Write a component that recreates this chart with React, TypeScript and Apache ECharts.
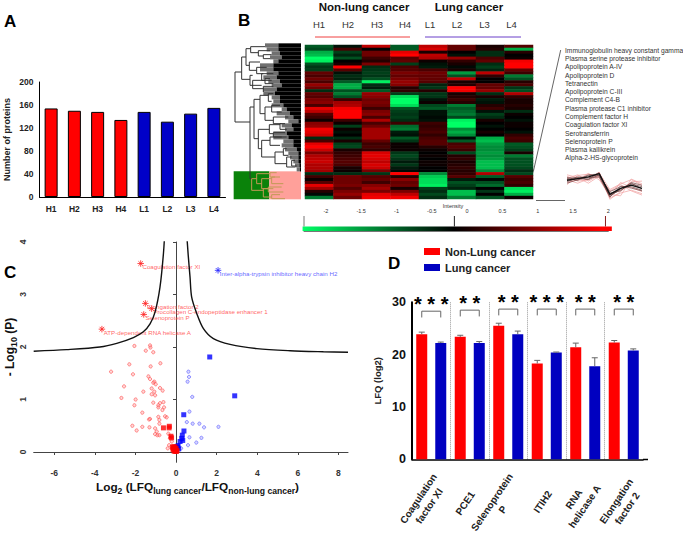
import React, { useEffect, useRef } from "react";
import * as echarts from "echarts";

const FONT = "'Liberation Sans', Arial, sans-serif";

// Panel A
const sampleNames = ["H1", "H2", "H3", "H4", "L1", "L2", "L3", "L4"];
const proteinCounts = [154, 150, 148, 134, 148, 131, 145, 155];

// Panel B: heat map rows, columns H1..L4
const heatRows = [
  [-1, -0.2, 1.5, -1, 1.5, 0.8, 0.2, 0.7],
  [-0.8, 0.6, 0, -1, 1.7, 0.8, 0.3, -1.5],
  [-1.5, -0.7, 0.9, 1.8, 0.2, 0, -0.5, 0.3],
  [-1.6, -0.4, 0.9, 2, 1.5, -0.2, -0.5, 0],
  [-2, -0.9, 0.5, 0.7, 1.4, 1.2, 0.6, 0.1],
  [-1.9, 0, 0.3, 0.8, 0.1, 0.4, 0.8, 1.9],
  [-0.9, 0.2, 1, -0.7, -0.2, 0.2, -0.5, 2],
  [-0.6, 2, -0.5, 0.6, -0.3, -0.1, -0.7, 2],
  [-0.7, 0.7, -0.6, 0.7, 0.6, 0.2, -0.4, 0.8],
  [0.8, -0.2, -0.7, 1, 0.9, -1.4, 1.5, 0.5],
  [0.6, -0.5, -0.6, 0.8, 0.8, -0.9, 0.4, -1.2],
  [0.9, -0.4, -0.9, 1, 0.8, 1.5, 0, -0.9],
  [0.6, -1, -1.9, 1.2, 0.7, 0.2, 0, 0.3],
  [1.2, -1.5, -0.5, 1.1, -0.4, 0.3, 0.8, 0.6],
  [0.9, -1.5, -0.3, 0.3, -0.6, 2, 0.8, -0.6],
  [-0.5, -0.9, -1, 0.4, 0.3, 1.9, 1.2, -0.9],
  [0.8, -1.2, 1.2, -0.7, -0.6, 0.2, -0.5, 1.4],
  [0.7, -0.9, 1.1, -1.8, -0.6, 0.3, 0.2, 0.4],
  [1, 0.5, 0.9, -2, -0.2, 0.5, -0.3, 0.2],
  [1.1, 1.3, 1, -2, 0.1, 0.3, -0.2, 0.2],
  [0.6, 1.4, 0.9, -1.8, -0.8, -1.2, 0.3, 0.3],
  [1.8, 1.9, 0.5, -0.9, -1, -1, 0.5, 0.2],
  [1.5, 2, 1, -0.7, -0.2, -1.1, -0.2, -0.5],
  [0.7, 2, 1.1, -0.6, -0.2, -1.2, -0.7, 0.1],
  [0.5, 2, 0.6, -0.7, -0.1, -0.8, -0.5, 0],
  [0.1, 0.5, 1.4, -0.5, -0.2, -1.9, 0.2, -0.2],
  [1.1, 0.1, 0.6, 0.5, 0.5, -2, 0, 0.1],
  [1.2, -0.7, 0.9, -1.1, 0.4, -2, -0.2, 0.1],
  [1.9, 0.1, 1.3, -1.2, 0.5, -1.3, 0, 0],
  [1.8, -0.2, 1.3, -0.3, 0.6, -1.5, 0.2, -0.2],
  [1.6, 0, 1.3, -0.2, 0.4, -1.3, 0, 0.4],
  [-0.5, -0.5, 1.3, -1, 0.6, -0.1, -1.5, 0.6],
  [0.6, 0.2, 0.8, -0.6, 0.7, -1, -1.6, 0.5],
  [1.8, -0.7, 0.5, 0.1, 0.7, 0.6, -1.4, -1],
  [2, -0.8, 0.6, 0.1, 0.3, 0.7, -1.3, -0.9],
  [1.6, 0.2, 0.4, 0.1, 0.1, 0.5, -1.3, -0.7],
  [1, 0.4, 1.7, -0.6, 0, -0.8, -1.4, 0.2],
  [1.4, 0.5, 1.8, -0.8, 0.1, 0.3, -1.3, -1.2],
  [1.5, 0.6, 1.7, -0.6, 0, 0.4, -1.4, -0.9],
  [1.6, 0.7, 1.5, -0.3, 0.1, 0.2, -1.6, -0.9],
  [1.4, 0.6, 1.7, -0.6, 0.1, 0.3, -1.6, -0.9],
  [1.4, 0.2, 1.6, -0.3, 0, 0.4, -1.6, -0.8],
  [1.3, 0.1, 1, -0.1, 0, 0.3, -1.3, -0.5],
  [-0.5, -0.5, -0.6, 2, -1.3, 0.4, 1.4, -0.8],
  [0.5, 0.9, 0.7, 0.3, -1.7, 0.7, -1, 0.7],
  [0.1, 0.9, 0.8, 1.1, -1.8, -0.3, -0.1, 0.5],
  [0.7, 0.9, 0.5, 0.8, -1.8, -0.9, -0.9, 0.6],
  [1.8, 1, 1.1, 0.9, -1.9, -0.7, -1.1, 0.4],
  [1.3, 0.7, 1.3, 0.2, -0.7, -0.4, 0, -1.8],
  [0.3, 1, 1, 1, -0.5, -1.6, -0.6, -1.9],
  [-0.1, 1.2, 1.8, 1.5, -0.8, -1.6, 0, -1.5],
  [-1.2, 0.9, 1.9, 1.9, -0.5, -1.2, -0.9, 0.1],
];

// dendrogram joins: parent height, top child row, bottom child row, top child height, bottom child height
const dendroJoins = [
  [15, 90, 240, 35, 60], [35, 45, 112, 48, 60], [48, 20, 70, 62, 58], [62, 14, 32, 105, 85],
  [85, 26, 42, 120, 100], [100, 38, 50, 125, 120], [58, 60, 85, 90, 80], [80, 76, 95, 110, 100],
  [60, 100, 130, 68, 95], [68, 115, 140, 105, 100], [95, 95, 115, 130, 125], [105, 110, 125, 120, 130],
  [100, 133, 150, 130, 100], [60, 195, 410, 72, 65], [72, 172, 290, 90, 85], [90, 160, 215, 115, 105],
  [115, 155, 178, 130, 125], [105, 195, 235, 125, 130], [125, 190, 210, 150, 155], [130, 225, 245, 175, 155],
  [85, 262, 320, 118, 95], [118, 248, 275, 150, 130], [150, 245, 262, 165, 170], [130, 272, 285, 165, 170],
  [95, 295, 345, 120, 135], [120, 285, 310, 155, 150], [135, 330, 365, 160, 170], [160, 320, 340, 170, 175],
  [170, 345, 375, 185, 195], [185, 355, 372, 195, 200],
];
const dendroSelectedJoins = [
  [65, 410, 445, 80, 100], [80, 395, 425, 120, 95], [120, 392, 405, 140, 135], [95, 410, 440, 125, 130],
  [125, 405, 425, 150, 160], [100, 440, 465, 115, 125], [115, 435, 450, 155, 160], [125, 458, 470, 150, 165],
];
// leaf row, height where grey begins, height where black begins
const dendroLeaves = [
  [10, 105, 145], [22, 110, 145], [34, 125, 150], [46, 120, 155], [58, 130, 145], [70, 90, 130], [82, 90, 130],
  [94, 110, 145], [106, 100, 140], [118, 115, 150], [130, 125, 155], [142, 100, 140], [154, 100, 135], [166, 125, 150],
  [178, 130, 150], [190, 125, 160], [202, 155, 170], [214, 140, 180], [226, 165, 190], [238, 175, 205], [250, 155, 185],
  [262, 165, 190], [274, 130, 170], [286, 130, 175], [298, 160, 190], [310, 155, 190], [322, 165, 200], [334, 175, 205],
  [346, 180, 205], [358, 190, 205], [370, 195, 208], [382, 200, 210],
];
const selectedProteins = [
  "Immunoglobulin heavy constant gamma", "Plasma serine protease inhibitor", "Apolipoprotein A-IV", "Apolipoprotein D",
  "Tetranectin", "Apolipoprotein C-III", "Complement C4-B", "Plasma protease C1 inhibitor", "Complement factor H",
  "Coagulation factor XI", "Serotransferrin", "Selenoprotein P", "Plasma kallikrein", "Alpha-2-HS-glycoprotein",
];
const profileMean = [0.82, 1.06, 1.3, 1.76, -1.2, -0.35, 0.12, -0.35];
const profilePink = [
  [1.4, 0.7, 0.9, 1.9, -0.5, 0.3, 0.9, 0.1], [0.2, 1.5, 1.7, 1.2, -1.7, -1, -0.6, -1.1], [0.9, 0.4, 1, 2, -1.9, -0.8, 0.6, 0.7],
  [1.1, 1.6, 0.7, 1.5, -0.7, 0.2, -0.7, -1.3], [0.5, 0.9, 1.8, 0.9, -1.2, -1.4, 1, 0.3], [1.6, 1.2, 0.4, 1.4, -1.4, 0.5, -0.2, -0.8],
];
const profileDark = [
  [0.6, 1.2, 1, 1.9, -1.3, -0.6, 0.3, -0.1], [1.1, 0.8, 1.5, 1.5, -0.8, -0.1, -0.1, -0.6], [0.9, 1.3, 1.2, 1.3, -1.5, -0.4, 0.4, -0.4],
  [0.4, 0.9, 1.6, 1.7, -1, -0.7, 0.5, 0.1], [1.2, 1.1, 0.9, 1.6, -1.6, 0, -0.3, -0.7],
];
const colorbarTicks = [-2, -1.5, -1, -0.5, 0, 0.5, 1, 1.5, 2];
const colorbarMarks = [-2.31, -0.18, 1.96];

// Panel C
const redPoints = [
  [-2.05, 2.02], [-1.28, 2.03], [-1.26, 1.99], [-1.49, 1.93], [-1.12, 1.9], [-2.3, 1.67], [-1.25, 1.63], [-0.77, 1.69], [-3.2, 1.53],
  [-2.12, 1.48], [-1.36, 1.44], [-1.28, 1.39], [-1.07, 1.34], [-1.12, 1.32], [-1, 1.29], [-2.56, 1.25], [-1.2, 1.21], [-1.61, 1.15],
  [-0.79, 1.22], [-0.66, 1.17], [-1.07, 1.15], [-1.2, 1.1], [-1.03, 1.08], [-2.69, 1.03], [-1.99, 1], [-1.12, 0.94], [-0.62, 0.95],
  [-0.79, 0.93], [-0.87, 0.89], [-2.05, 0.89], [-0.87, 0.85], [-0.59, 0.85], [-0.67, 0.8], [-1.66, 0.75], [-1.28, 0.63], [-1.33, 0.62],
  [-0.87, 0.67], [-0.54, 0.68], [-0.46, 0.66], [-0.82, 0.61], [-0.82, 0.54], [-2.15, 0.5], [-1.66, 0.48], [-1.31, 0.47], [-1.03, 0.45],
  [-1.94, 0.41], [-0.95, 0.39], [-1.03, 0.34], [-0.92, 0.32], [-0.82, 0.32], [-0.38, 0.35], [-0.3, 0.26], [-0.21, 0.2], [-0.34, 0.13], [-0.41, 0.07],
];
const bluePoints = [
  [0.61, 1.53], [0.64, 1.43], [0.57, 1.34], [0.8, 1.05], [0.66, 0.77], [0.53, 0.57], [0.82, 0.54], [1.15, 0.54], [1.38, 0.47], [2.09, 0.48],
  [0.66, 0.28], [1.25, 0.27], [1, 0.18], [0.59, 0.13], [0.25, 0.07], [0.11, 0.13],
];
const blueSquares = [
  [1.66, 1.81], [2.89, 1.07], [0.38, 0.71], [0.39, 0.4], [0.31, 0.32], [0.33, 0.22], [0.28, 0.26], [0.2, 0.2], [0.07, 0.09], [0, 0.05], [0.13, 0.06], [0.1, 0.12], [0.04, 0.1],
];
const redSquares = [
  [-0.62, 0.46], [-0.33, 0.49], [-0.34, 0.46], [-0.25, 0.3], [-0.22, 0.27], [-0.13, 0.1], [-0.08, 0.07], [-0.03, 0.04], [0.02, 0.01], [-0.05, 0.01], [0.05, 0.03],
  [-0.15, 0.05], [-0.1, 0.02], [-0.18, 0.09], [-0.06, 0.1], [-0.12, 0.06], [0, 0.07],
];
const redHits = [
  [-1.74, 3.59, "Coagulation factor XI"], [-1.51, 2.83, "Elongation factor 2"], [-1.2, 2.73, "Procollagen C-endopeptidase enhancer 1"],
  [-1.59, 2.62, "Selenoprotein P"], [-3.65, 2.34, "ATP-dependent RNA helicase A"],
];
const blueHits = [[2.07, 3.46, "Inter-alpha-trypsin inhibitor heavy chain H2"]];
const curveLeft = [
  [-7.01, 1.92], [-5.39, 1.95], [-3.75, 2], [-2.92, 2.07], [-2.1, 2.18], [-1.61, 2.29], [-1.28, 2.44], [-1.03, 2.67], [-0.79, 3.14], [-0.62, 3.78], [-0.54, 4.3],
];
const curveRight = [
  [0.5, 4.3], [0.6, 3.75], [0.69, 3.33], [0.77, 2.95], [1.02, 2.64], [1.35, 2.35], [1.84, 2.16], [2.66, 2.05], [3.98, 1.97], [5.62, 1.93], [7.26, 1.91], [8.47, 1.9],
];

// Panel D
const proteinNames = ["Coagulation\nfactor XI", "PCE1", "Selenoprotein\nP", "ITIH2", "RNA\nhelicase A", "Elongation\nfactor 2"];
const nonLungValues = [23.9, 23.4, 25.5, 18.3, 21.4, 22.3];
const lungValues = [22.2, 22.2, 23.9, 20.4, 17.8, 20.8];
const nonLungErrorTops = [24.3, 23.7, 26, 18.9, 22.2, 22.7];
const lungErrorTops = [22.4, 22.5, 24.5, 20.5, 19.4, 21.1];
const bracketTops = [28.3, 28.5, 28.7, 28.7, 28.7, 28.7];
const starLevels = ["* * *", "* *", "* *", "* * *", "* *", "* *"];
const labelNudgeX = [-7.5, -4.5, -11, -4, -6, -2];
const labelNudgeY = [43, 44, 46.5, 42.5, 43.5, 45.5];

const hiddenAxis = (gridIndex: number, extra: any = {}) => ({
  gridIndex, show: false, type: "value", splitLine: { show: false }, ...extra,
});

const branchRender = (color: string) => (_: any, api: any) => {
  const [p, y1, y2, a, b] = [0, 1, 2, 3, 4].map((i) => api.value(i));
  return {
    type: "polyline",
    shape: { points: [api.coord([a, y1]), api.coord([p, y1]), api.coord([p, y2]), api.coord([b, y2])] },
    style: { stroke: color, fill: "none", lineWidth: 1 },
  };
};

export default function App() {
  const ref = useRef<HTMLDivElement>(null);
  useEffect(() => {
    document.body.style.margin = "0";
    const chart = echarts.init(ref.current!, undefined, { renderer: "svg" });
    const txt = (left: number, top: number, text: string, s: any = {}) => ({
      type: "text", x: left, y: top, silent: true,
      style: { text, fontFamily: FONT, fontSize: 10, fill: "#222", verticalAlign: "middle", ...s },
    });
    const line = (x1: number, y1: number, x2: number, y2: number, stroke: string, lineWidth = 1) => ({
      type: "line", silent: true, shape: { x1, y1, x2, y2 }, style: { stroke, lineWidth },
    });
    const heatData: number[][] = [];
    heatRows.forEach((r, y) => r.forEach((v, x) => heatData.push([x, y, v])));
    const graphic: any[] = [
      txt(4, 21, "A", { fontSize: 17, fontWeight: "bold", fill: "#000" }),
      txt(238, 20, "B", { fontSize: 17, fontWeight: "bold", fill: "#000" }),
      txt(4, 272, "C", { fontSize: 17, fontWeight: "bold", fill: "#000" }),
      txt(388, 263, "D", { fontSize: 17, fontWeight: "bold", fill: "#000" }),
      txt(364, 7, "Non-lung cancer", { fontSize: 11.5, fontWeight: "bold", align: "center", fill: "#111" }),
      txt(469, 7, "Lung cancer", { fontSize: 11.5, fontWeight: "bold", align: "center", fill: "#111" }),
      ...sampleNames.map((s, i) =>
        txt([319, 348, 377, 405, 430, 457, 484.5, 511.5][i], 24, s, { fontSize: 9.5, align: "center", fill: "#333" })),
      line(315, 37, 410, 37, "#f04040"),
      line(425, 37, 521, 37, "#6a3fc9"),
      line(533.3, 171.7, 560.7, 50, "#666"),
      line(536, 200.5, 565, 200.5, "#666"),
      ...selectedProteins.map((s, i) => txt(565, 50.3 + i * 8.28, s, { fontSize: 6.7, fill: "#333" })),
      txt(453, 206, "Intensity", { fontSize: 5.5, align: "center", fill: "#333" }),
      line(643, 459.5, 648, 459.5, "#000", 1.5),
      {
        type: "text", x: 197.5, y: 487, silent: true,
        style: {
          text: "{a|Log}{s|2}{a| (LFQ}{s|lung cancer}{a|/LFQ}{s|non-lung cancer}{a|)}",
          align: "center", verticalAlign: "middle", fontFamily: FONT,
          rich: {
            a: { fontFamily: FONT, fontSize: 11.8, fontWeight: "bold", fill: "#111", lineHeight: 16 },
            s: { fontFamily: FONT, fontSize: 8.6, fontWeight: "bold", fill: "#111", lineHeight: 16, verticalAlign: "bottom" },
          },
        },
      },
      {
        type: "text", x: 10, y: 347, rotation: Math.PI / 2, silent: true,
        style: {
          text: "{a|- Log}{s|10}{a| (P)}", align: "center", verticalAlign: "middle", fontFamily: FONT,
          rich: {
            a: { fontFamily: FONT, fontSize: 12, fontWeight: "bold", fill: "#111", lineHeight: 16 },
            s: { fontFamily: FONT, fontSize: 9, fontWeight: "bold", fill: "#111", lineHeight: 16, verticalAlign: "bottom" },
          },
        },
      },
    ];

    const errorSeries = (tops: number[], vals: number[], dx: number) => ({
      type: "custom", xAxisIndex: 6, yAxisIndex: 6, z: 4, silent: true,
      data: tops.map((t, i) => [i, vals[i], t]),
      renderItem: (_: any, api: any) => {
        const a = api.coord([api.value(0), api.value(1)]);
        const b = api.coord([api.value(0), api.value(2)]);
        const st = { stroke: "#666", lineWidth: 1 };
        return {
          type: "group", children: [
            { type: "line", shape: { x1: a[0] + dx, y1: a[1], x2: a[0] + dx, y2: b[1] }, style: st },
            { type: "line", shape: { x1: a[0] + dx - 3, y1: b[1], x2: a[0] + dx + 3, y2: b[1] }, style: st },
          ],
        };
      },
    });

    const option: any = {
      animation: false,
      backgroundColor: "#fff",
      textStyle: { fontFamily: FONT },
      graphic,
      legend: {
        data: ["Non-Lung cancer", "Lung cancer"], orient: "vertical", left: 419, top: 241, itemWidth: 16, itemHeight: 7, itemGap: 5,
        icon: "rect", textStyle: { fontFamily: FONT, fontSize: 11, fontWeight: "bold", color: "#222" }, selectedMode: false,
      },
      visualMap: {
        show: false, seriesIndex: 1, dimension: 2, min: -2, max: 2,
        inRange: { color: ["#00ff66", "#005a24", "#000000", "#7a0000", "#ff0000"] },
      },
      grid: [
        { left: 39.5, top: 82, width: 186, height: 115 },
        { left: 305, top: 45, width: 228, height: 154 },
        { left: 233, top: 45, width: 69, height: 154 },
        { left: 304, top: 216, width: 304.3, height: 15 },
        { left: 567, top: 172, width: 75, height: 28 },
        { left: 33.7, top: 242, width: 314.3, height: 220.3 },
        { left: 412, top: 302.3, width: 231, height: 157 },
      ],
      xAxis: [
        {
          gridIndex: 0, type: "category", data: sampleNames,
          axisLine: { lineStyle: { color: "#000", width: 1 } }, axisTick: { show: false },
          axisLabel: { color: "#222", fontSize: 8.5, fontWeight: "bold", margin: 7 },
        },
        { gridIndex: 1, type: "category", data: sampleNames, show: false },
        hiddenAxis(2, { min: 9, max: 216 }),
        {
          gridIndex: 3, type: "value", position: "top", min: -2.31, max: 2.0,
          splitLine: { show: false },
          axisLine: { lineStyle: { color: "#777" } },
          axisTick: { length: 2, lineStyle: { color: "#777" }, customValues: colorbarTicks },
          axisLabel: { fontSize: 5.5, color: "#333", margin: 2, customValues: colorbarTicks, showMinLabel: true, showMaxLabel: true },
        },
        { gridIndex: 4, type: "category", data: sampleNames, show: false, boundaryGap: false },
        {
          gridIndex: 5, type: "value", min: -7.01, max: 8.47, splitLine: { show: false },
          axisLine: { lineStyle: { color: "#444" } },
          axisTick: { length: 3, lineStyle: { color: "#444" }, customValues: [-6, -4, -2, 0, 2, 4, 6, 8] },
          axisLabel: { fontSize: 8.5, fontWeight: "bold", color: "#333", margin: 6, customValues: [-6, -4, -2, 0, 2, 4, 6, 8] },
        },
        {
          gridIndex: 6, type: "category", data: proteinNames,
          axisLine: { lineStyle: { color: "#000", width: 1.5 } }, axisTick: { show: false },
          splitLine: { show: true, showMaxLine: false, showMinLine: false, interval: 0, lineStyle: { color: "#999", type: "dotted", width: 1 } },
          axisLabel: { show: false },
        },
      ],
      yAxis: [
        {
          gridIndex: 0, type: "value", min: 0, max: 200, interval: 40, splitLine: { show: false },
          axisLine: { show: true, lineStyle: { color: "#000" } }, axisTick: { show: false },
          axisLabel: { color: "#222", fontSize: 8.5, fontWeight: "bold", margin: 6 },
          name: "Number of proteins", nameLocation: "middle", nameGap: 28,
          nameTextStyle: { fontSize: 9, fontWeight: "bold", color: "#222" },
        },
        { gridIndex: 1, type: "category", inverse: true, data: heatRows.map((_, i) => i), show: false },
        hiddenAxis(2, { min: 9, max: 471, inverse: true }),
        hiddenAxis(3, { min: 0, max: 1 }),
        hiddenAxis(4, { min: -2, max: 2 }),
        {
          gridIndex: 5, type: "value", min: -0.196, max: 4, splitLine: { show: false },
          axisLine: { show: true, lineStyle: { color: "#444" } },
          axisTick: { length: 3, lineStyle: { color: "#444" }, customValues: [0, 1, 2, 3, 4] },
          axisLabel: { rotate: 90, fontSize: 8.5, fontWeight: "bold", color: "#333", margin: 6, customValues: [0, 1, 2, 3, 4] },
        },
        {
          gridIndex: 6, type: "value", min: 0, max: 30, interval: 10, splitLine: { show: false },
          axisLine: { show: true, lineStyle: { color: "#000", width: 2 } },
          axisTick: { length: 4, lineStyle: { color: "#000", width: 1.5 } },
          axisLabel: { color: "#111", fontSize: 12.5, fontWeight: "bold", margin: 6 },
          name: "LFQ (log2)", nameLocation: "middle", nameGap: 30,
          nameTextStyle: { fontSize: 9.5, fontWeight: "bold", color: "#222" },
        },
      ],
      series: [
        {
          name: "Proteins", type: "bar", xAxisIndex: 0, yAxisIndex: 0, barWidth: 13,
          data: proteinCounts.map((v, i) => ({ value: v, itemStyle: { color: i < 4 ? "#ff0000" : "#0000c8", borderColor: "#000", borderWidth: 1 } })),
        },
        { name: "Intensity", type: "heatmap", xAxisIndex: 1, yAxisIndex: 1, data: heatData, progressive: 0 },
        {
          type: "custom", xAxisIndex: 2, yAxisIndex: 2, z: 1, silent: true, data: [[388, 472]],
          renderItem: (_: any, api: any) => {
            const tl = api.coord([11, api.value(0)]), mid = api.coord([118, api.value(1)]), br = api.coord([213, api.value(1)]);
            return {
              type: "group", children: [
                { type: "rect", shape: { x: tl[0], y: tl[1], width: mid[0] - tl[0], height: mid[1] - tl[1] }, style: { fill: "#0a820a" } },
                { type: "rect", shape: { x: mid[0], y: tl[1], width: br[0] - mid[0], height: mid[1] - tl[1] }, style: { fill: "#ffa09a" } },
              ],
            };
          },
        },
        {
          type: "custom", xAxisIndex: 2, yAxisIndex: 2, z: 2, silent: true, data: dendroLeaves,
          renderItem: (_: any, api: any) => {
            const y0 = api.coord([0, api.value(0) - 6])[1], y1 = api.coord([0, api.value(0) + 6.2])[1];
            const g = api.coord([api.value(1), 0])[0], b = api.coord([api.value(2), 0])[0], e = api.coord([213, 0])[0];
            return {
              type: "group", children: [
                { type: "rect", shape: { x: g, y: y0, width: b - g, height: y1 - y0 }, style: { fill: "#707070" } },
                { type: "rect", shape: { x: b, y: y0, width: e - b, height: y1 - y0 }, style: { fill: "#000" } },
              ],
            };
          },
        },
        { type: "custom", xAxisIndex: 2, yAxisIndex: 2, z: 3, silent: true, data: dendroJoins, renderItem: branchRender("#333") },
        { type: "custom", xAxisIndex: 2, yAxisIndex: 2, z: 3, silent: true, data: dendroSelectedJoins, renderItem: branchRender("#c09a55") },
        {
          type: "custom", xAxisIndex: 3, yAxisIndex: 3, silent: true, z: 2, data: colorbarMarks.map((m) => [m]),
          renderItem: (p: any, api: any) => {
            const x = api.coord([api.value(0), 0])[0];
            const top = api.coord([0, 1])[1], bot = api.coord([0, 0.3])[1];
            return {
              type: "line", shape: { x1: x, y1: top, x2: x, y2: bot },
              style: { stroke: ["#777", "#222", "#8a1c1c"][p.dataIndex], lineWidth: 1 },
            };
          },
        },
        {
          type: "custom", xAxisIndex: 3, yAxisIndex: 3, silent: true, z: 1, clip: false, data: [[-2.33, 2.05]],
          renderItem: (_: any, api: any) => {
            const a = api.coord([api.value(0), 0.3]), b = api.coord([api.value(1), 0]);
            return {
              type: "rect", shape: { x: a[0], y: a[1], width: b[0] - a[0], height: b[1] - a[1] },
              style: {
                fill: new echarts.graphic.LinearGradient(0, 0, 1, 0, [
                  { offset: 0, color: "#00ff66" }, { offset: 0.49, color: "#000000" }, { offset: 0.97, color: "#ff0000" }, { offset: 1, color: "#ff0000" },
                ]),
              },
            };
          },
        },
        ...profilePink.map((d) => ({
          type: "line", xAxisIndex: 4, yAxisIndex: 4, data: d, showSymbol: false, silent: true, lineStyle: { color: "#f0a0a0", width: 0.7 }, z: 1,
        })),
        ...profileDark.map((d) => ({
          type: "line", xAxisIndex: 4, yAxisIndex: 4, data: d, showSymbol: false, silent: true, lineStyle: { color: "#704040", width: 0.7 }, z: 2,
        })),
        { type: "line", xAxisIndex: 4, yAxisIndex: 4, data: profileMean, showSymbol: false, silent: true, lineStyle: { color: "#111", width: 1.4 }, z: 3 },
        ...[
          { data: redPoints, c: "#ff5a5a", f: "rgba(255,120,120,0.35)" },
          { data: bluePoints, c: "#6a6aff", f: "rgba(120,120,255,0.35)" },
        ].map((s) => ({
          type: "scatter", xAxisIndex: 5, yAxisIndex: 5, data: s.data, symbol: "circle", symbolSize: 3.2, silent: true,
          itemStyle: { color: s.f, borderColor: s.c, borderWidth: 0.9 },
        })),
        { type: "scatter", xAxisIndex: 5, yAxisIndex: 5, data: blueSquares, symbol: "rect", symbolSize: 5, silent: true, itemStyle: { color: "#0000ff" } },
        { type: "scatter", xAxisIndex: 5, yAxisIndex: 5, data: redSquares, symbol: "rect", symbolSize: 5, silent: true, itemStyle: { color: "#ff0000" } },
        ...[
          { data: redHits, c: "#ff2020", lab: "#ff3a3a" },
          { data: blueHits, c: "#2020ff", lab: "#3a3aff" },
        ].map((s) => ({
          type: "scatter", xAxisIndex: 5, yAxisIndex: 5, data: s.data, silent: true,
          symbol: "path://M12 0V24M0 12H24M3.5 3.5L20.5 20.5M20.5 3.5L3.5 20.5", symbolSize: 6.5,
          itemStyle: { color: "none", borderColor: s.c, borderWidth: 1 },
          label: {
            show: true, position: "right", distance: 0, offset: [-4, 3], fontSize: 6.2, color: s.lab, fontFamily: FONT,
            formatter: (p: any) => p.value[2],
          },
        })),
        { type: "line", xAxisIndex: 5, yAxisIndex: 5, data: curveLeft, smooth: 0.3, showSymbol: false, silent: true, lineStyle: { color: "#111", width: 1.4 } },
        { type: "line", xAxisIndex: 5, yAxisIndex: 5, data: curveRight, smooth: 0.3, showSymbol: false, silent: true, lineStyle: { color: "#111", width: 1.4 } },
        {
          name: "Non-Lung cancer", type: "bar", xAxisIndex: 6, yAxisIndex: 6, data: nonLungValues, barWidth: 11, barGap: "73%",
          itemStyle: { color: "#ff0000" },
        },
        {
          name: "Lung cancer", type: "bar", xAxisIndex: 6, yAxisIndex: 6, data: lungValues, barWidth: 11,
          itemStyle: { color: "#0000c0" },
        },
        errorSeries(nonLungErrorTops, nonLungValues, -9.5),
        errorSeries(lungErrorTops, lungValues, 9.5),
        {
          type: "custom", xAxisIndex: 6, yAxisIndex: 6, z: 4, silent: true, clip: false,
          data: proteinNames.map((_, i) => [i, 0]),
          renderItem: (p: any, api: any) => {
            const a = api.coord([api.value(0), 0]);
            return {
              type: "text", x: a[0] + labelNudgeX[p.dataIndex], y: a[1] + labelNudgeY[p.dataIndex], rotation: (56 * Math.PI) / 180,
              style: {
                text: proteinNames[p.dataIndex], fontFamily: FONT, fontSize: 10, fontWeight: "bold", fill: "#222",
                align: "center", verticalAlign: "middle", lineHeight: 13,
              },
            };
          },
        },
        {
          type: "custom", xAxisIndex: 6, yAxisIndex: 6, z: 4, silent: true, clip: false,
          data: bracketTops.map((t, i) => [i, t]),
          renderItem: (p: any, api: any) => {
            const a = api.coord([api.value(0), api.value(1)]);
            const low = api.coord([api.value(0), api.value(1) - 1.2])[1];
            return {
              type: "group", children: [
                {
                  type: "polyline",
                  shape: { points: [[a[0] - 9.5, low], [a[0] - 9.5, a[1]], [a[0] + 9.5, a[1]], [a[0] + 9.5, low]] },
                  style: { stroke: "#666", fill: "none", lineWidth: 1 },
                },
                {
                  type: "text", x: a[0], y: a[1] - 7,
                  style: {
                    text: starLevels[p.dataIndex], fontFamily: FONT, fontSize: 20, fontWeight: "bold", fill: "#000",
                    align: "center", verticalAlign: "middle",
                  },
                },
              ],
            };
          },
        },
      ],
    };
    chart.setOption(option);
    return () => chart.dispose();
  }, []);
  return <div ref={ref} style={{ width: 683, height: 534 }} />;
}
